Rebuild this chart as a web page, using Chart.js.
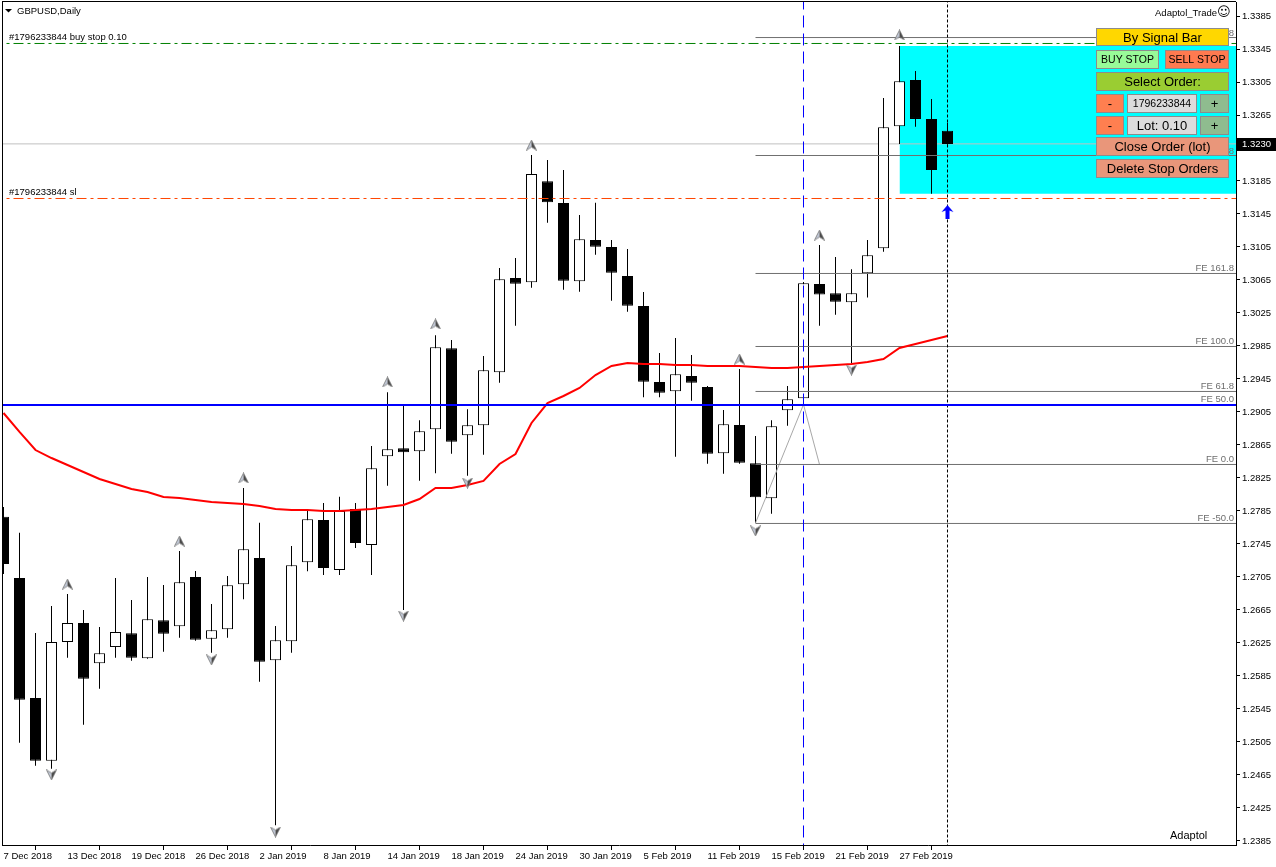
<!DOCTYPE html>
<html><head><meta charset="utf-8">
<script src="https://cdn.jsdelivr.net/npm/chart.js@4.4.1/dist/chart.umd.min.js"></script>
<style>html,body{margin:0;padding:0;background:#fff;overflow:hidden}canvas{display:block}</style>
</head><body>
<canvas id="c" width="1276" height="867"></canvas>
<script>
// ---------------- DATA ----------------
const dateTickIndex = [0,4,8,12,16,20,24,28,32,36,40,44,48,52,56];
const dateTickLabels = ['7 Dec 2018','13 Dec 2018','19 Dec 2018','26 Dec 2018','2 Jan 2019','8 Jan 2019','14 Jan 2019','18 Jan 2019','24 Jan 2019','30 Jan 2019','5 Feb 2019','11 Feb 2019','15 Feb 2019','21 Feb 2019','27 Feb 2019'];
const priceTickLabels = ['1.3385','1.3345','1.3305','1.3265','1.3225','1.3185','1.3145','1.3105','1.3065','1.3025','1.2985','1.2945','1.2905','1.2865','1.2825','1.2785','1.2745','1.2705','1.2665','1.2625','1.2585','1.2545','1.2505','1.2465','1.2425','1.2385'];

const openP  = [1.27781,1.27038,1.25583,1.24823,1.26262,1.26492,1.26004,1.26201,1.26368,1.26065,1.26525,1.26452,1.27050,1.26302,1.26416,1.26961,1.27280,1.26040,1.26271,1.27228,1.27741,1.27135,1.27874,1.27438,1.28513,1.28610,1.28574,1.28840,1.29822,1.28768,1.28889,1.29531,1.30674,1.30622,1.31846,1.31583,1.30634,1.31135,1.31050,1.30698,1.30335,1.29414,1.29301,1.29486,1.29353,1.28549,1.28892,1.28428,1.28004,1.29071,1.29216,1.30602,1.30489,1.30380,1.30731,1.31034,1.32513,1.33074,1.32602,1.32460];
const highP  = [1.27898,1.27587,1.26371,1.26698,1.26844,1.26650,1.26444,1.27038,1.26771,1.27050,1.26953,1.27365,1.27123,1.26723,1.27062,1.28129,1.27708,1.26456,1.27426,1.27854,1.27947,1.28023,1.27947,1.28638,1.29289,1.29126,1.28949,1.29980,1.29923,1.29083,1.29729,1.30795,1.30917,1.32165,1.32105,1.31983,1.31438,1.31587,1.31135,1.31026,1.30505,1.29765,1.29947,1.29741,1.29365,1.29074,1.29571,1.28759,1.28949,1.29365,1.30626,1.31074,1.30929,1.30780,1.31135,1.32856,1.33486,1.33183,1.32844,1.32557];
const lowP   = [1.27086,1.25041,1.24763,1.24726,1.26072,1.25260,1.25696,1.26072,1.26035,1.26060,1.26145,1.26314,1.26278,1.26132,1.26314,1.26780,1.25781,1.24040,1.26132,1.27119,1.27074,1.27074,1.27402,1.27074,1.28157,1.26650,1.28217,1.28307,1.28545,1.28278,1.28532,1.29405,1.30096,1.30557,1.31345,1.30532,1.30508,1.30957,1.30399,1.30266,1.29228,1.29228,1.28508,1.29187,1.28423,1.28302,1.28423,1.27705,1.27817,1.28884,1.29147,1.30096,1.30229,1.29640,1.30438,1.30993,1.32298,1.32508,1.31696,1.32290];
const closeP = [1.27208,1.25563,1.24823,1.26262,1.26492,1.25817,1.26125,1.26383,1.26072,1.26537,1.26363,1.26986,1.26290,1.26404,1.26949,1.27386,1.26023,1.26283,1.27192,1.27749,1.27159,1.27850,1.27462,1.28368,1.28598,1.28562,1.28816,1.29834,1.28690,1.28889,1.29555,1.30658,1.30605,1.31935,1.31592,1.30642,1.31143,1.31054,1.30738,1.30338,1.29417,1.29284,1.29507,1.29405,1.28545,1.28901,1.28435,1.28016,1.28877,1.29204,1.30610,1.30474,1.30387,1.30489,1.30949,1.32501,1.33058,1.32602,1.31983,1.32300];
const maValues = [1.29038,1.28808,1.28589,1.28492,1.28408,1.28323,1.28238,1.28177,1.28117,1.28080,1.28020,1.28008,1.27983,1.27959,1.27947,1.27935,1.27911,1.27874,1.27862,1.27862,1.27850,1.27850,1.27862,1.27874,1.27898,1.27923,1.27995,1.28129,1.28129,1.28165,1.28214,1.28420,1.28541,1.28917,1.29159,1.29244,1.29341,1.29498,1.29608,1.29644,1.29632,1.29632,1.29620,1.29620,1.29608,1.29608,1.29608,1.29595,1.29583,1.29583,1.29595,1.29608,1.29620,1.29632,1.29656,1.29692,1.29826,1.29874,1.29923,1.29971];

const upArrowBars = [4,11,15,24,27,33,46,51,56];
const upArrowPrices = [1.26965,1.27486,1.28250,1.29414,1.30117,1.32286,1.29692,1.31195,1.33620];
const downArrowBars = [3,13,17,25,29,47,53];
const downArrowPrices = [1.24650,1.26044,1.23959,1.26577,1.28189,1.27608,1.29559];
const signalArrowBar = 59;
const signalArrowPrice = 1.31474;

const feLabels = ['FE -50.0','FE 0.0','FE 50.0','FE 61.8','FE 100.0','FE 161.8','FE 261.8','FE 361.8'];
const fePrices = [1.27699,1.28414,1.29141,1.29299,1.29844,1.30729,1.32159,1.33589];
const feStartBar = 47;
const feAnchorBars = [47,50,51];
const feAnchorPrices = [1.27705,1.29141,1.28414];

const orderTicket = '1796233844';
const buyStopPrice = 1.33517;
const stopLossPrice = 1.31638;
const blueLinePrice = 1.29135;
const lastPrice = 1.3230;
const vDashBar = 50;
const vDotBar = 59;
const boxBars = [56, 80];
const boxPrices = [1.33486, 1.31696];

// ---------------- LAYOUT / STYLE ----------------
const FONT = "'Liberation Sans', Arial, sans-serif";
const X_MIN = -0.09375, X_MAX = 77.03125;
const Y_MIN = 1.238015, Y_MAX = 1.340197;
const FAR_L = -2, FAR_R = 80;

function makeArrow(up){
  const c=document.createElement('canvas'); c.width=11; c.height=11;
  const g=c.getContext('2d');
  if(!up){ g.translate(0,11); g.scale(1,-1); }
  g.beginPath(); g.moveTo(5.5,0.5); g.lineTo(5.5,7.5); g.lineTo(0.5,10.5); g.closePath();
  g.fillStyle='#bfc6d4'; g.fill();
  g.beginPath(); g.moveTo(5.5,0.5); g.lineTo(10.5,10.5); g.lineTo(5.5,7.5); g.closePath();
  g.fillStyle='#4a4a4a'; g.fill();
  g.beginPath(); g.moveTo(5.5,0.5); g.lineTo(10.5,10.5); g.lineTo(5.5,7.5); g.lineTo(0.5,10.5); g.closePath();
  g.strokeStyle='#7a7a7a'; g.lineWidth=0.8; g.stroke();
  return c;
}
function makeSignalArrow(){
  const c=document.createElement('canvas'); c.width=13; c.height=14;
  const g=c.getContext('2d'); g.fillStyle='#0000ff';
  g.beginPath(); g.moveTo(6.5,0); g.lineTo(12.5,7); g.lineTo(8.5,5.5); g.lineTo(8.5,14); g.lineTo(4.5,14); g.lineTo(4.5,5.5); g.lineTo(0.5,7); g.closePath(); g.fill();
  return c;
}

const idx = openP.map((_,i)=>i);
const hLine = (price, color, width, dash, order, x0) => ({
  type:'line', data:[{x:(x0===undefined?FAR_L:x0),y:price},{x:FAR_R,y:price}],
  borderColor:color, borderWidth:width, borderDash:dash||[], pointRadius:0, fill:false, order:order
});
const vLine = (bar, color, dash, order) => ({
  type:'line', data:[{x:bar,y:Y_MIN-0.01},{x:bar,y:Y_MAX+0.01}],
  borderColor:color, borderWidth:1, borderDash:dash, pointRadius:0, fill:false, order:order
});

const datasets = [
  { type:'line', data:[{x:boxBars[0],y:boxPrices[0]},{x:boxBars[1],y:boxPrices[0]}], fill:'+1',
    backgroundColor:'#00ffff', borderColor:'rgba(0,0,0,0)', borderWidth:1, pointRadius:0, order:20 },
  { type:'line', data:[{x:boxBars[0],y:boxPrices[1]},{x:boxBars[1],y:boxPrices[1]}], fill:false,
    borderColor:'rgba(0,0,0,0)', borderWidth:1, pointRadius:0, order:20 },
  hLine(lastPrice,'#c0c0c0',1,[],15),
  { type:'bar', data: idx.map(i=>({x:i,y:[lowP[i],highP[i]]})), backgroundColor:'#000', borderWidth:0,
    barThickness:1, grouped:false, inflateAmount:0, order:8 },
  { type:'bar', data: idx.map(i=>({x:i,y:[openP[i],closeP[i]]})),
    backgroundColor: idx.map(i=> closeP[i]>=openP[i] ? '#ffffff' : '#000000'),
    borderColor:'#000', borderWidth:1, borderSkipped:false, barThickness:11, grouped:false, inflateAmount:0, order:7 },
  { type:'line', data: idx.map(i=>({x:i,y:maValues[i]})), borderColor:'#ff0000', borderWidth:2, pointRadius:0, tension:0, fill:false, order:4 },
];
fePrices.forEach(p=>datasets.push(hLine(p,'#707070',1,[],5,feStartBar)));
datasets.push({ type:'line', data: feAnchorBars.map((b,i)=>({x:b,y:feAnchorPrices[i]})), borderColor:'#a8a8a8', borderWidth:1, pointRadius:0, tension:0, fill:false, order:5 });
datasets.push(hLine(blueLinePrice,'#0000ff',2,[],3));
datasets.push(hLine(buyStopPrice,'#008000',1,[10,4,3,4],3));
datasets.push(hLine(stopLossPrice,'#ff4500',1,[10,4,3,4],3));
datasets.push(vLine(vDashBar,'#0000ff',[12,6],3));
datasets.push(vLine(vDotBar,'#000000',[3,2],3));
datasets.push({ type:'scatter', data: upArrowBars.map((b,i)=>({x:b,y:upArrowPrices[i]})), pointStyle: makeArrow(true), pointRadius:5, order:1 });
datasets.push({ type:'scatter', data: downArrowBars.map((b,i)=>({x:b,y:downArrowPrices[i]})), pointStyle: makeArrow(false), pointRadius:5, order:1 });
datasets.push({ type:'scatter', data: [{x:signalArrowBar,y:signalArrowPrice}], pointStyle: makeSignalArrow(), pointRadius:6, order:1 });

const panelButtons = [
  {x:1096,y:28,w:133,h:18,fill:'#FFD700',text:'By Signal Bar',size:13},
  {x:1096,y:50,w:63,h:19,fill:'#98FB98',text:'BUY STOP',size:10.5},
  {x:1165,y:50,w:64,h:19,fill:'#FF7A50',text:'SELL STOP',size:10.5},
  {x:1096,y:72,w:133,h:19,fill:'#9ACD32',text:'Select Order:',size:13},
  {x:1096,y:94,w:28,h:19,fill:'#FF7F50',text:'-',size:13},
  {x:1127,y:94,w:70,h:19,fill:'#DCDCDC',text:orderTicket,size:10.5},
  {x:1200,y:94,w:29,h:19,fill:'#8FBC8F',text:'+',size:13},
  {x:1096,y:116,w:28,h:19,fill:'#FF7F50',text:'-',size:13},
  {x:1127,y:116,w:70,h:19,fill:'#DCDCDC',text:'Lot: 0.10',size:13},
  {x:1200,y:116,w:29,h:19,fill:'#8FBC8F',text:'+',size:13},
  {x:1096,y:137,w:133,h:19,fill:'#E9967A',text:'Close Order (lot)',size:13},
  {x:1096,y:159,w:133,h:19,fill:'#E9967A',text:'Delete Stop Orders',size:13},
];

const overlay = {
  id:'overlay',
  beforeDraw(chart){
    const c=chart.ctx; c.save(); c.fillStyle='#fff'; c.fillRect(0,0,chart.width,chart.height); c.restore();
  },
  afterDatasetsDraw(chart){
    const c=chart.ctx, ys=chart.scales.y, a=chart.chartArea;
    c.save();
    c.font='9.5px '+FONT; c.textAlign='right'; c.textBaseline='alphabetic'; c.fillStyle='#6e6e6e';
    fePrices.forEach((p,i)=>{ c.fillText(feLabels[i], a.right-2, Math.round(ys.getPixelForValue(p))-2); });
    c.textAlign='left'; c.fillStyle='#000';
    c.fillText('#'+orderTicket+' buy stop 0.10', a.left+7, Math.round(ys.getPixelForValue(buyStopPrice))-3);
    c.fillText('#'+orderTicket+' sl', a.left+7, Math.round(ys.getPixelForValue(stopLossPrice))-3);
    c.restore();
  },
  afterDraw(chart){
    const c=chart.ctx, ys=chart.scales.y, a=chart.chartArea;
    c.save();
    // frame
    c.fillStyle='#000'; c.fillRect(a.left,1,1,a.bottom-1); c.fillRect(a.left,1,a.right-a.left,1);
    // title
    c.beginPath(); c.moveTo(5,9); c.lineTo(12,9); c.lineTo(8.5,12.5); c.closePath(); c.fill();
    c.font='9.5px '+FONT; c.textAlign='left'; c.textBaseline='alphabetic';
    c.fillText('GBPUSD,Daily', 17, 14);
    c.textAlign='right'; c.fillText('Adaptol_Trade', 1217, 16);
    c.font="13px 'DejaVu Sans', sans-serif"; c.textAlign='left'; c.textBaseline='middle';
    c.fillText('\u263A', 1217, 12.5);
    c.font='11px '+FONT; c.textBaseline='alphabetic'; c.fillText('Adaptol', 1170, 839);
    // panel
    panelButtons.forEach(b=>{
      c.fillStyle=b.fill; c.fillRect(b.x,b.y,b.w,b.h);
      c.strokeStyle='#8c8c8c'; c.lineWidth=1; c.strokeRect(b.x+0.5,b.y+0.5,b.w-1,b.h-1);
      c.fillStyle='#000'; c.font=b.size+'px '+FONT; c.textAlign='center'; c.textBaseline='middle';
      c.fillText(b.text, b.x+b.w/2, b.y+b.h/2+1);
    });
    // last price box
    const py=Math.round(ys.getPixelForValue(lastPrice));
    c.fillStyle='#000'; c.fillRect(a.right+1, py-6, chart.width-a.right-1, 13);
    c.fillStyle='#fff'; c.font='9.5px '+FONT; c.textAlign='left'; c.textBaseline='middle';
    c.fillText(lastPrice.toFixed(4), a.right+6, py+0.5);
    c.restore();
  }
};

const axisFont = {family:FONT, size:9.5};
new Chart(document.getElementById('c'), {
  type:'line',
  data:{ datasets },
  plugins:[overlay],
  options:{
    responsive:false, devicePixelRatio:1, animation:false,
    layout:{ autoPadding:false, padding:{left:2, top:2, right:0, bottom:0} },
    plugins:{ legend:{display:false}, tooltip:{enabled:false} },
    scales:{
      x:{ type:'linear', position:'bottom', min:X_MIN, max:X_MAX, offset:false, bounds:'data',
        grid:{ drawOnChartArea:false, drawTicks:true, tickLength:5, tickColor:'#000' },
        border:{ display:true, color:'#000', width:1 },
        ticks:{ align:'start', padding:1, color:'#000', font:axisFont, autoSkip:false, maxRotation:0,
          callback:(v,i)=>dateTickLabels[i] },
        afterBuildTicks:s=>{ s.ticks = dateTickIndex.map(v=>({value:v})); },
        afterFit:s=>{ s.height=22; s.paddingLeft=0; s.paddingRight=0; }
      },
      y:{ type:'linear', position:'right', min:Y_MIN, max:Y_MAX, bounds:'data',
        grid:{ drawOnChartArea:false, drawTicks:true, tickLength:4, tickColor:'#000' },
        border:{ display:true, color:'#000', width:1 },
        ticks:{ padding:2, color:'#000', font:axisFont, autoSkip:false,
          callback:(v,i)=>priceTickLabels[i] },
        afterBuildTicks:s=>{ s.ticks = priceTickLabels.map(t=>({value:parseFloat(t)})); },
        afterFit:s=>{ s.width=40; s.paddingTop=0; s.paddingBottom=0; }
      }
    }
  }
});
</script>
</body></html>
